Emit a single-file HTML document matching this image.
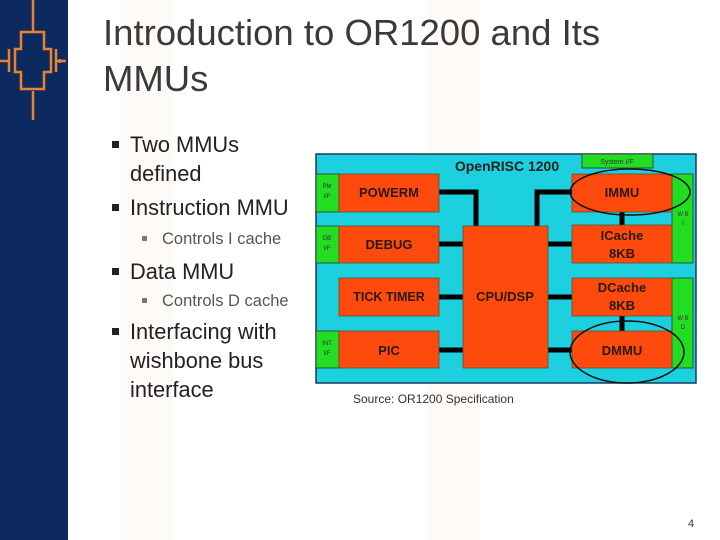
<!DOCTYPE html>
<html><head><meta charset="utf-8"><style>
html,body{margin:0;padding:0}
body{width:720px;height:540px;position:relative;overflow:hidden;background:#fff;font-family:"Liberation Sans",sans-serif}
.bar{position:absolute;left:0;top:0;width:68px;height:540px;background:#0c2a5f}
.t{position:absolute;left:103px;top:10px;font-size:36.5px;line-height:46px;color:#3a3a3a;font-family:"Liberation Sans",sans-serif}
.b{position:absolute;color:#222;font-family:"Liberation Sans",sans-serif;font-size:21.8px;line-height:29px}
.b:before{content:"";position:absolute;left:-18px;top:11px;width:7px;height:7px;background:#222}
.s{position:absolute;color:#555;font-family:"Liberation Sans",sans-serif;font-size:16.5px;line-height:20px}
.s:before{content:"";position:absolute;left:-20px;top:7px;width:5px;height:5px;background:#777}
.src{position:absolute;left:353px;top:392px;font-size:12px;color:#333}
.pg{position:absolute;left:688px;top:518px;font-size:11px;color:#333}
</style></head><body>
<div style="position:absolute;left:68px;top:0;width:652px;height:540px;background:linear-gradient(90deg,#fff 0,#fff 8%,#fefaf7 8%,#fefaf7 16%,#fff 16%,#fff 55%,#fefaf7 55%,#fefaf7 63%,#fff 63%)"></div>
<div class="bar"></div>
<svg style="position:absolute;left:0;top:0" width="68" height="120">
<g stroke="#e8822e" stroke-width="2.5" fill="none">
<line x1="33" y1="0" x2="33" y2="32"/><line x1="33" y1="91" x2="33" y2="120"/>
<path d="M21 32 H44 V49 H51 V72 H44 V89 H21 V72 H15 V49 H21 Z"/>
<line x1="0" y1="61" x2="9" y2="61"/><line x1="9" y1="49" x2="9" y2="72"/>
<line x1="56" y1="49" x2="56" y2="72"/><line x1="56" y1="61" x2="66" y2="61"/>
</g><circle cx="60" cy="61" r="2" fill="#e8822e"/></svg>
<div class="t">Introduction to OR1200 and Its<br>MMUs</div>
<div class="b" style="left:130px;top:130px">Two MMUs<br>defined</div>
<div class="b" style="left:130px;top:193px">Instruction MMU</div>
<div class="s" style="left:162px;top:229px">Controls I cache</div>
<div class="b" style="left:130px;top:257px">Data MMU</div>
<div class="s" style="left:162px;top:291px">Controls D cache</div>
<div class="b" style="left:130px;top:317px">Interfacing with<br>wishbone bus<br>interface</div>
<svg style="position:absolute;left:0;top:0" width="720" height="540" font-family="Liberation Sans,sans-serif" font-weight="bold">
<rect x="316" y="154" width="380" height="229" fill="#1dd0e0" stroke="#1a3a5a" stroke-width="1.5"/>
<rect x="582" y="154" width="71" height="14" fill="#22dd22" stroke="#333" stroke-width="0.8"/>
<text x="617" y="164" font-size="7" font-weight="normal" text-anchor="middle" fill="#333">System I/F</text>
<text x="507" y="171" font-size="14" text-anchor="middle" fill="#222">OpenRISC 1200</text>
<g fill="#22dd22" stroke="#333" stroke-width="0.8">
<rect x="316" y="174" width="23" height="38"/><rect x="316" y="226" width="23" height="37"/><rect x="316" y="331" width="23" height="37"/>
<rect x="672" y="174" width="21" height="89"/><rect x="672" y="278" width="21" height="90"/></g>
<g font-size="6" font-weight="normal" fill="#333" text-anchor="middle">
<text x="327" y="188">PM</text><text x="327" y="198">I/F</text>
<text x="327" y="240">DB</text><text x="327" y="250">I/F</text>
<text x="327" y="345">INT</text><text x="327" y="355">I/F</text>
<text x="683" y="216">W B</text><text x="683" y="225">I</text>
<text x="683" y="320">W B</text><text x="683" y="329">D</text></g>
<g stroke="#000" stroke-width="5" fill="none">
<path d="M439 192 H476 V226"/><path d="M537 226 V192 H572"/>
<line x1="439" y1="244" x2="463" y2="244"/><line x1="439" y1="297" x2="463" y2="297"/><line x1="439" y1="350" x2="463" y2="350"/>
<line x1="548" y1="244" x2="572" y2="244"/><line x1="548" y1="297" x2="572" y2="297"/><line x1="548" y1="350" x2="572" y2="350"/>
<line x1="622" y1="212" x2="622" y2="225"/><line x1="622" y1="316" x2="622" y2="331"/></g>
<g fill="#ff4a0e" stroke="#553" stroke-width="0.8">
<rect x="339" y="174" width="100" height="38"/><rect x="339" y="226" width="100" height="37"/>
<rect x="339" y="278" width="100" height="38"/><rect x="339" y="331" width="100" height="37"/>
<rect x="463" y="226" width="85" height="142"/>
<rect x="572" y="174" width="100" height="38"/><rect x="572" y="225" width="100" height="38"/>
<rect x="572" y="278" width="100" height="38"/><rect x="572" y="331" width="100" height="37"/></g>
<g font-size="13" fill="#2a1a10" text-anchor="middle">
<text x="389" y="197">POWERM</text><text x="389" y="249">DEBUG</text>
<text x="389" y="301" font-size="12.5">TICK TIMER</text><text x="389" y="355">PIC</text>
<text x="505" y="301">CPU/DSP</text>
<text x="622" y="197">IMMU</text><text x="622" y="240">ICache</text><text x="622" y="258">8KB</text>
<text x="622" y="292">DCache</text><text x="622" y="310">8KB</text><text x="622" y="355">DMMU</text></g>
<g fill="none" stroke="#111" stroke-width="1.5">
<ellipse cx="630" cy="192" rx="60" ry="23"/><ellipse cx="627" cy="352" rx="57" ry="31"/></g>
</svg>
<div class="src">Source: OR1200 Specification</div>
<div class="pg">4</div>
</body></html>
